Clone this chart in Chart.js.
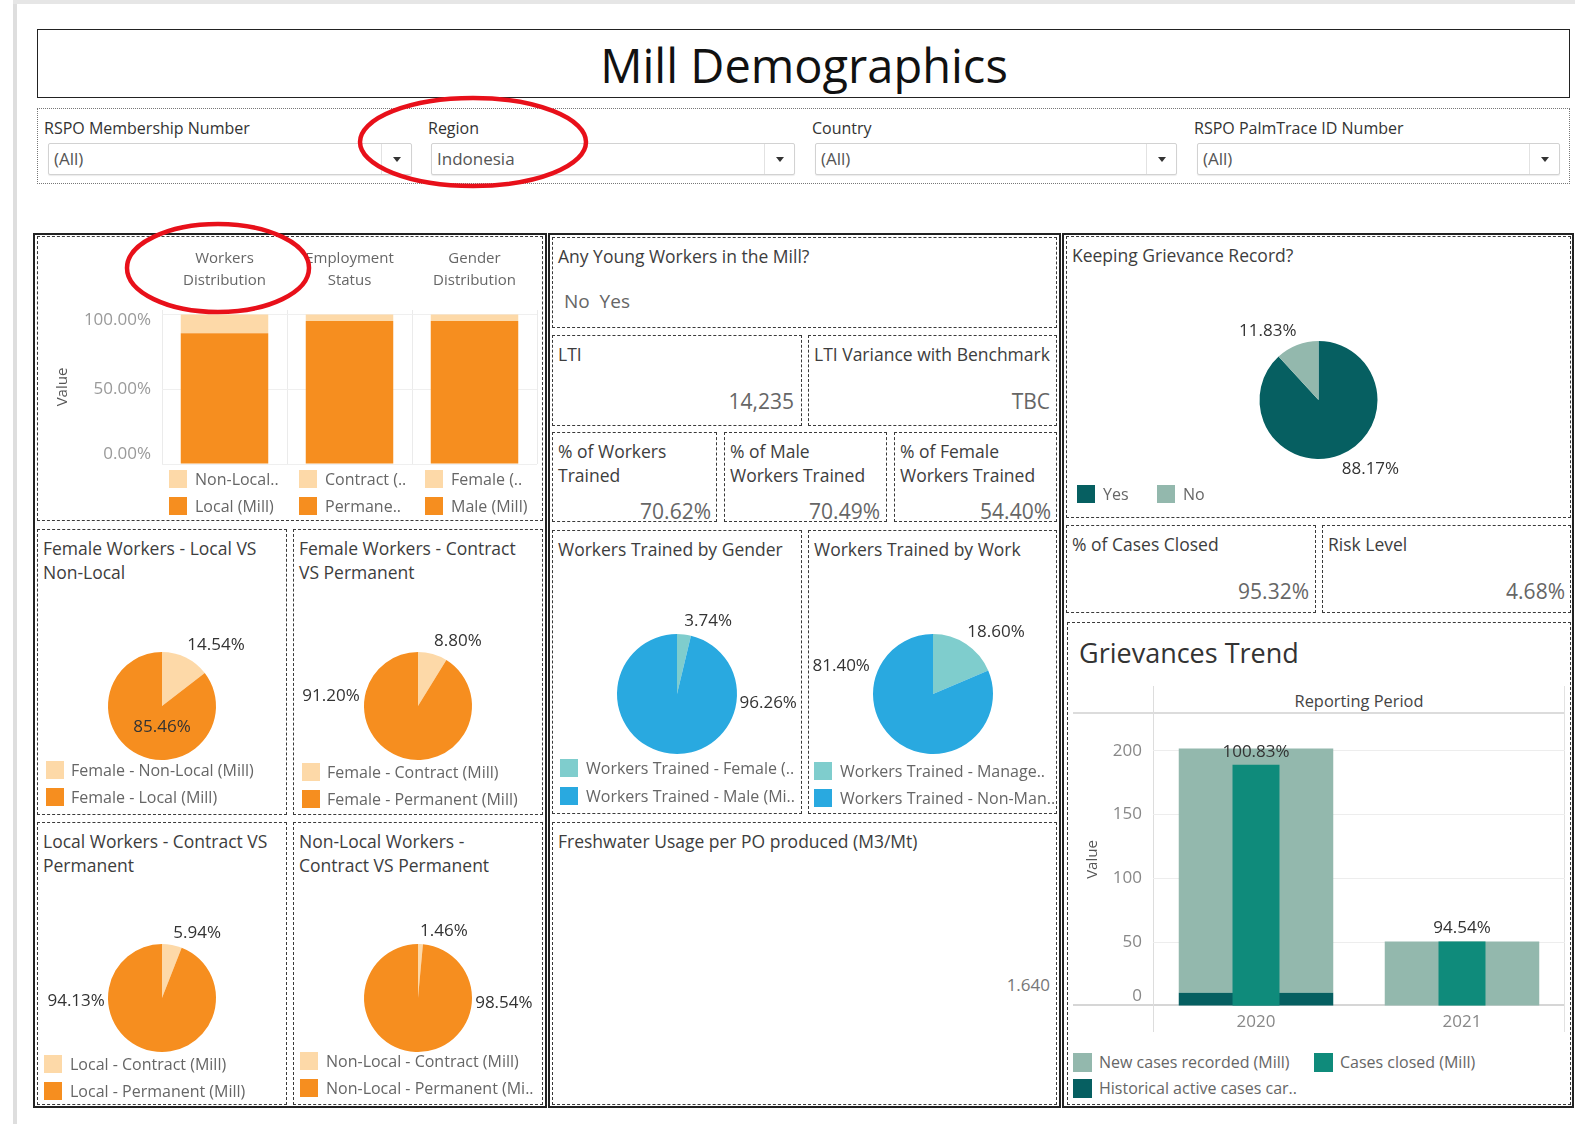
<!DOCTYPE html>
<html><head><meta charset="utf-8">
<script src="https://cdn.jsdelivr.net/npm/chart.js@4.4.1/dist/chart.umd.min.js"></script>
<style>
html,body{margin:0;padding:0;background:#fff;}
#root{position:relative;width:1575px;height:1124px;overflow:hidden;font-family:'Open Sans',sans-serif;background:#fff;}
.dash{position:absolute;border:1px dashed #3a3a3a;box-sizing:border-box;}
.solid{position:absolute;border:2px solid #222;box-sizing:border-box;}
.t{position:absolute;white-space:nowrap;}
canvas{position:absolute;}
</style></head><body><div id="root"></div>
<script>
// ---------------- DATA ----------------
const filterLabels = ['RSPO Membership Number','Region','Country','RSPO PalmTrace ID Number'];
const filterValues = ['(All)','Indonesia','(All)','(All)'];

const barCategories = [['Workers','Distribution'],['Employment','Status'],['Gender','Distribution']];
const barMainSeries  = [87.5, 95.6, 95.6];   // Local / Permanent / Male
const barMinorSeries = [12.5, 4.4, 4.4];     // Non-Local / Contract / Female
const barTicks = [0, 50, 100];
const barLegendMinor = ['Non-Local..','Contract (..','Female (..'];
const barLegendMain  = ['Local (Mill)','Permane..','Male (Mill)'];

const femaleLocalLabels = ['Female - Non-Local (Mill)','Female - Local (Mill)'];
const femaleLocalValues = [14.54, 85.46];
const femaleContractLabels = ['Female - Contract (Mill)','Female - Permanent (Mill)'];
const femaleContractValues = [8.80, 91.20];
const localContractLabels = ['Local - Contract (Mill)','Local - Permanent (Mill)'];
const localContractValues = [5.94, 94.13];
const nonLocalContractLabels = ['Non-Local - Contract (Mill)','Non-Local - Permanent (Mi..'];
const nonLocalContractValues = [1.46, 98.54];
const trainedGenderLabels = ['Workers Trained - Female (..','Workers Trained - Male (Mi..'];
const trainedGenderValues = [3.74, 96.26];
const trainedWorkLabels = ['Workers Trained - Manage..','Workers Trained - Non-Man..'];
const trainedWorkValues = [18.60, 81.40];
const grievanceRecordLabels = ['Yes','No'];
const grievanceRecordValues = [88.17, 11.83];

const youngWorkerOptions = ['No','Yes'];
const ltiValue = '14,235';
const ltiVariance = 'TBC';
const trainedPct = ['70.62%','70.49%','54.40%'];
const casesClosedPct = '95.32%';
const riskLevel = '4.68%';
const freshwaterValue = '1.640';

const periods = ['2020','2021'];
const historicalActive = [10.3, 0];
const newCases = [191.3, 50.5];
const casesClosed = [189, 50.5];
const closedRatioLabels = ['100.83%','94.54%'];
const grievanceTicks = [0, 50, 100, 150, 200];
const grievanceLegend = ['New cases recorded (Mill)','Cases closed (Mill)','Historical active cases car..'];

// ---------------- STYLE ----------------
const ORANGE='#f68e1f', ORANGE_L='#fdd9a8', BLUE='#29a9e0', TEAL_L='#7fcdcd';
const G_DARK='#065f61', G_LIGHT='#93b8ad', G_CLOSED='#0f8b7b';
Chart.defaults.font.family = "'Open Sans', sans-serif";

const root = document.getElementById('root');
function box(l,t,r,b,cls,extra){const e=document.createElement('div');e.className=cls;Object.assign(e.style,{left:l+'px',top:t+'px',width:(r-l)+'px',height:(b-t)+'px'},extra||{});root.appendChild(e);return e;}
function txt(text,x,yc,size,color,align,lh,extra){
  const e=document.createElement('div');e.className='t';
  const L=lh||Math.round(size*1.4);
  const st={fontSize:size+'px',color:color,lineHeight:L+'px'};
  const lines=Array.isArray(text)?text:[text];
  e.innerHTML=lines.map(s=>s.replace(/&/g,'&amp;').replace(/</g,'&lt;')).join('<br>');
  st.top=(yc-L/2)+'px';
  if(align==='right'){st.right=(1575-x)+'px';st.textAlign='right';}
  else if(align==='center'){st.left=(x-300)+'px';st.width='600px';st.textAlign='center';}
  else st.left=x+'px';
  Object.assign(e.style,st,extra||{});root.appendChild(e);return e;
}
function swatch(x,yc,color,size){const s=size||18;box(x,yc-s/2,x+s,yc+s/2,'',{position:'absolute',background:color});}
function legendItem(sx,tx,yc,color,label,size){swatch(sx,yc,color,size);txt(label,tx,yc,16,'#666','left');}
function canvas(l,t,w,h){const c=document.createElement('canvas');c.width=w;c.height=h;Object.assign(c.style,{left:l+'px',top:t+'px',width:w+'px',height:h+'px'});root.appendChild(c);return c;}

// y tick labels kept inside the plot area (Tableau style), positioned by the chart's own y scale
function clampedYLabels(fmt,size,color,pad){
  return {id:'clampedY',afterDraw(chart){
    const s=chart.scales.y, ca=chart.chartArea, ctx=chart.ctx, half=size*0.6;
    ctx.save();ctx.font=size+"px 'Open Sans'";ctx.fillStyle=color;ctx.textAlign='right';ctx.textBaseline='middle';
    s.ticks.forEach(t=>{let y=s.getPixelForValue(t.value);y=Math.max(ca.top+half,Math.min(ca.bottom-half,y));ctx.fillText(fmt(t.value),s.right-pad,y);});
    ctx.restore();}};
}

// background strips
box(13,0,17,1124,'',{position:'absolute',background:'#dedede'});
box(13,0,1575,4,'',{position:'absolute',background:'#e6e6e6'});

// Title
box(37,29,1570,98,'',{position:'absolute',border:'1.5px solid #222',boxSizing:'border-box'});
txt('Mill Demographics',804,65,47,'#111','center',60);

// Filters
box(37,108,1570,184,'',{position:'absolute',border:'1px dotted #777',boxSizing:'border-box'});
const fx=[[44,48,412],[428,431,795],[812,815,1177],[1194,1197,1560]];
fx.forEach((f,i)=>{
  txt(filterLabels[i],f[0],128,16,'#333','left');
  box(f[1],143,f[2],175,'',{position:'absolute',border:'1px solid #d2d2d2',borderRadius:'2px',boxSizing:'border-box',background:'#fff',boxShadow:'0 1px 1px rgba(0,0,0,0.08)'});
  box(f[2]-31,144,f[2]-30,174,'',{position:'absolute',background:'#e2e2e2'});
  const a=document.createElement('div');Object.assign(a.style,{position:'absolute',left:(f[2]-19)+'px',top:'157px',width:0,height:0,borderLeft:'4px solid transparent',borderRight:'4px solid transparent',borderTop:'5px solid #333'});root.appendChild(a);
  txt(filterValues[i],f[1]+6,159,17,'#555','left');
});

// Column frames
box(33,233,547,1108,'solid');
box(548,233,1061,1108,'solid');
box(1062,233,1574,1108,'solid');

// Dashed boxes
const B={A:[37,236,543,521],B:[37,529,287,815],C:[293,529,543,815],D:[37,822,287,1105],E:[293,822,543,1105],
F:[552,237,1057,328],G:[552,335,802,426],H:[808,335,1057,426],I:[552,432,717,522],J:[724,432,887,522],K:[894,432,1057,522],
L:[552,530,802,814],M:[808,530,1057,814],N:[552,822,1057,1105],O:[1066,236,1571,518],P:[1066,525,1316,613],Q:[1322,525,1571,613],R:[1067,622,1571,1105]};
Object.values(B).forEach(b=>box(b[0],b[1],b[2],b[3],'dash'));

const TC='#3d3d3d', VC='#666';
function title(k,lines){const b=B[k];txt(lines,b[0]+6,0,17.5,TC,'left',24,{top:(b[1]+7)+'px'});}

title('B',['Female Workers - Local VS','Non-Local']);
title('C',['Female Workers - Contract','VS Permanent']);
title('D',['Local Workers - Contract VS','Permanent']);
title('E',['Non-Local Workers -','Contract VS Permanent']);
title('F',['Any Young Workers in the Mill?']);
title('G',['LTI']);
title('H',['LTI Variance with Benchmark']);
title('I',['% of Workers','Trained']);
title('J',['% of Male','Workers Trained']);
title('K',['% of Female','Workers Trained']);
title('L',['Workers Trained by Gender']);
title('M',['Workers Trained by Work']);
title('N',['Freshwater Usage per PO produced (M3/Mt)']);
title('O',['Keeping Grievance Record?']);
title('P',['% of Cases Closed']);
title('Q',['Risk Level']);

// KPI values
txt(youngWorkerOptions.join('\u00a0\u00a0'),564,301,19,VC,'left');
txt(ltiValue,794,401,21,VC,'right');
txt(ltiVariance,1050,401,21,VC,'right');
txt(trainedPct[0],711,511,21,VC,'right');
txt(trainedPct[1],880,511,21,VC,'right');
txt(trainedPct[2],1051,511,21,VC,'right');
txt(casesClosedPct,1309,591,21,VC,'right');
txt(riskLevel,1565,591,21,VC,'right');
txt(freshwaterValue,1050,985,17,'#777','right');

// ---------------- Stacked bar chart (top-left) ----------------
const cA = canvas(40,240,500,230);
new Chart(cA,{type:'bar',
  data:{labels:barCategories,datasets:[
    {label:'Main',data:barMainSeries,backgroundColor:ORANGE,barPercentage:0.7,categoryPercentage:1},
    {label:'Minor',data:barMinorSeries,backgroundColor:ORANGE_L,barPercentage:0.7,categoryPercentage:1}]},
  options:{responsive:false,animation:false,layout:{padding:{left:10,right:3,top:0,bottom:6}},
    plugins:{legend:{display:false},tooltip:{enabled:false}},
    scales:{
      x:{position:'top',stacked:true,grid:{offset:true,color:'#ebebeb',drawTicks:false},border:{display:false},
         ticks:{font:{size:15,lineHeight:1.47},color:'#666',padding:18},afterFit(s){s.height=70;}},
      y:{stacked:true,min:0,max:103,afterBuildTicks(s){s.ticks=barTicks.map(v=>({value:v}));},
         grid:{color:'#efefef',drawTicks:false},border:{display:false},
         ticks:{display:false},
         title:{display:true,text:'Value',font:{size:15},color:'#555'},afterFit(s){s.width=112;}}
    }},
  plugins:[clampedYLabels(v=>Number(v).toFixed(2)+'%',17,'#9a9a9a',11)]});
[[169,195],[299,325],[425,451]].forEach((p,i)=>{
  legendItem(p[0],p[1],479,ORANGE_L,barLegendMinor[i]);
  legendItem(p[0],p[1],506,ORANGE,barLegendMain[i]);
});

// ---------------- Pie charts ----------------
function pie(l,t,w,h,labels,values,colors,r,pos){
  const c=canvas(l,t,w,h);
  new Chart(c,{type:'pie',
    data:{labels:labels,datasets:[{data:values,backgroundColor:colors,borderWidth:0}]},
    options:{responsive:false,animation:false,radius:r,layout:{padding:0},
      plugins:{legend:{display:false},tooltip:{enabled:false}}},
    plugins:[{id:'sliceLabels',afterDatasetsDraw(chart){
      const ctx=chart.ctx;const meta=chart.getDatasetMeta(0);
      ctx.save();ctx.font="17px 'Open Sans'";ctx.fillStyle='#333';ctx.textAlign='center';ctx.textBaseline='middle';
      meta.data.forEach((arc,i)=>{const R=arc.outerRadius;ctx.fillText(values[i].toFixed(2)+'%',arc.x+pos[i][0]*R,arc.y+pos[i][1]*R);});
      ctx.restore();}}]
  });
}
const OR=[ORANGE_L,ORANGE], BL=[TEAL_L,BLUE];
pie(37,616,250,180,femaleLocalLabels,femaleLocalValues,OR,54,[[1.0,-1.13],[0,0.39]]);
pie(293,616,250,180,femaleContractLabels,femaleContractValues,OR,54,[[0.74,-1.2],[-1.61,-0.19]]);
pie(37,908,250,180,localContractLabels,localContractValues,OR,54,[[0.65,-1.2],[-1.59,0.05]]);
pie(293,908,250,180,nonLocalContractLabels,nonLocalContractValues,OR,54,[[0.48,-1.24],[1.59,0.1]]);
pie(552,604,250,180,trainedGenderLabels,trainedGenderValues,BL,60,[[0.52,-1.22],[1.52,0.15]]);
pie(808,604,250,180,trainedWorkLabels,trainedWorkValues,BL,60,[[1.05,-1.03],[-1.53,-0.47]]);
pie(1066,310,505,180,grievanceRecordLabels,grievanceRecordValues,[G_DARK,G_LIGHT],59,[[0.88,1.17],[-0.86,-1.17]]);

legendItem(46,71,770,ORANGE_L,femaleLocalLabels[0]);legendItem(46,71,797,ORANGE,femaleLocalLabels[1]);
legendItem(302,327,772,ORANGE_L,femaleContractLabels[0]);legendItem(302,327,799,ORANGE,femaleContractLabels[1]);
legendItem(44,70,1064,ORANGE_L,localContractLabels[0]);legendItem(44,70,1091,ORANGE,localContractLabels[1]);
legendItem(300,326,1061,ORANGE_L,nonLocalContractLabels[0]);legendItem(300,326,1088,ORANGE,nonLocalContractLabels[1]);
legendItem(560,586,768,TEAL_L,trainedGenderLabels[0]);legendItem(560,586,796,BLUE,trainedGenderLabels[1]);
legendItem(814,840,771,TEAL_L,trainedWorkLabels[0]);legendItem(814,840,798,BLUE,trainedWorkLabels[1]);
legendItem(1077,1103,494,G_DARK,grievanceRecordLabels[0]);legendItem(1157,1183,494,G_LIGHT,grievanceRecordLabels[1]);

// ---------------- Grievances Trend ----------------
txt('Grievances Trend',1079,653,27,'#333','left');
txt('Reporting Period',1359,700,16.4,'#444','center');
box(1073,712,1565,714,'',{position:'absolute',background:'#dcdcdc'});
box(1073,1004,1565,1006,'',{position:'absolute',background:'#d6d6d6'});
box(1153,686,1154,1032,'',{position:'absolute',background:'#dddddd'});
box(1564,686,1565,1032,'',{position:'absolute',background:'#e2e2e2'});
const cR = canvas(1070,690,500,347);
new Chart(cR,{type:'bar',
  data:{labels:periods,datasets:[
    {label:grievanceLegend[1],data:casesClosed,backgroundColor:G_CLOSED,stack:'b',grouped:false,barPercentage:0.228,categoryPercentage:1,order:0},
    {label:grievanceLegend[2],data:historicalActive,backgroundColor:G_DARK,stack:'a',grouped:false,barPercentage:0.75,categoryPercentage:1,order:1},
    {label:grievanceLegend[0],data:newCases,backgroundColor:G_LIGHT,stack:'a',grouped:false,barPercentage:0.75,categoryPercentage:1,order:2}]},
  options:{responsive:false,animation:false,layout:{padding:{left:10,right:5,top:23,bottom:0}},
    plugins:{legend:{display:false},tooltip:{enabled:false}},
    scales:{
      x:{grid:{display:false},border:{display:false},ticks:{font:{size:17},color:'#888',padding:-2},afterFit(s){s.height=31;}},
      y:{stacked:true,min:0,max:229.5,afterBuildTicks(s){s.ticks=grievanceTicks.map(v=>({value:v}));},
         grid:{color:c=>c.tick&&c.tick.value===0?'rgba(0,0,0,0)':'#ededed',drawTicks:false},border:{display:false},
         ticks:{display:false},
         title:{display:true,text:'Value',font:{size:15},color:'#555'},afterFit(s){s.width=73;}}
    }},
  plugins:[clampedYLabels(v=>String(v),17,'#888',11),{id:'ratioLabels',afterDatasetsDraw(chart){
    const ctx=chart.ctx;const meta=chart.getDatasetMeta(0);
    ctx.save();ctx.font="17px 'Open Sans'";ctx.fillStyle='#333';ctx.textAlign='center';ctx.textBaseline='middle';
    meta.data.forEach((bar,i)=>ctx.fillText(closedRatioLabels[i],bar.x,bar.y-13));ctx.restore();}}]
});
legendItem(1073,1099,1062,G_LIGHT,grievanceLegend[0],19);
legendItem(1314,1340,1062,G_CLOSED,grievanceLegend[1],19);
legendItem(1073,1099,1088,G_DARK,grievanceLegend[2],19);

// ---------------- Annotation ellipses ----------------
const svgNS='http://www.w3.org/2000/svg';
const svg=document.createElementNS(svgNS,'svg');
svg.setAttribute('width','1575');svg.setAttribute('height','1124');
Object.assign(svg.style,{position:'absolute',left:'0',top:'0',pointerEvents:'none'});
[[473,142,113,44],[218,268,91,44]].forEach(e=>{
  const el=document.createElementNS(svgNS,'ellipse');
  el.setAttribute('cx',e[0]);el.setAttribute('cy',e[1]);el.setAttribute('rx',e[2]);el.setAttribute('ry',e[3]);
  el.setAttribute('fill','none');el.setAttribute('stroke','#e8101a');el.setAttribute('stroke-width','4.5');
  svg.appendChild(el);
});
root.appendChild(svg);
</script>
</body></html>
